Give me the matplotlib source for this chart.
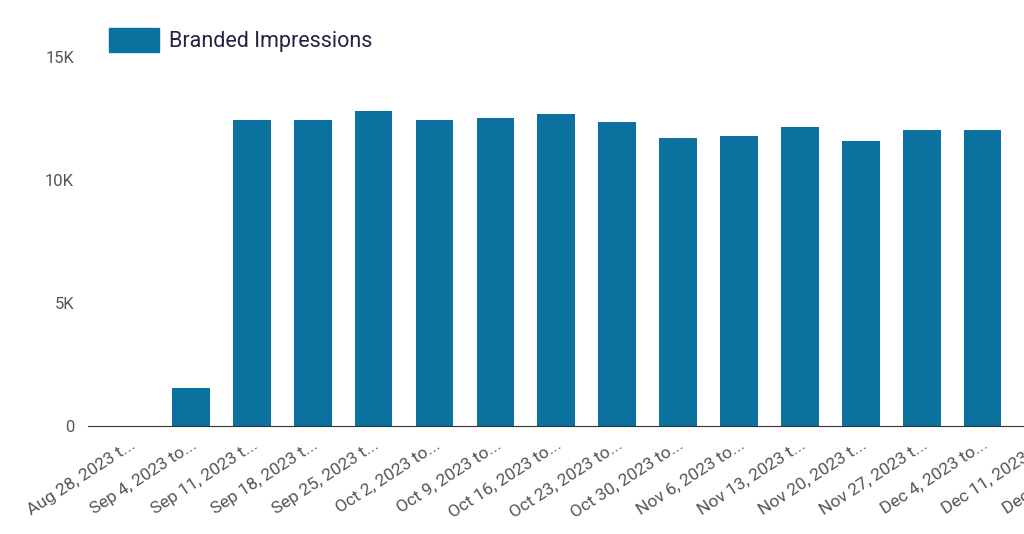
import matplotlib
matplotlib.use("Agg")
import matplotlib.pyplot as plt
from matplotlib.patches import Patch

plt.rcParams['font.family'] = ['Roboto', 'DejaVu Sans']

labels = ["Aug 28, 2023 t...", "Sep 4, 2023 to...", "Sep 11, 2023 t...", "Sep 18, 2023 t...",
          "Sep 25, 2023 t...", "Oct 2, 2023 to...", "Oct 9, 2023 to...", "Oct 16, 2023 to...",
          "Oct 23, 2023 to...", "Oct 30, 2023 to...", "Nov 6, 2023 to...", "Nov 13, 2023 t...",
          "Nov 20, 2023 t...", "Nov 27, 2023 t...", "Dec 4, 2023 to...", "Dec 11, 2023 t...",
          "Dec 18, 2023 t..."]
values = [0, 1550, 12440, 12440, 12800, 12440, 12520, 12680, 12360, 11700, 11790,
          12150, 11590, 12030, 12030, 11750, 11500]
yticks = [0, 5000, 10000, 15000]
ytick_labels = ["0", "5K", "10K", "15K"]

W, H = 1024, 534
fig = plt.figure(figsize=(W/100, H/100), dpi=100)
left_px, right_px = 88, 1150
bottom_px, top_px = 426, 57
ax = fig.add_axes([left_px/W, 1-bottom_px/H, (right_px-left_px)/W, (bottom_px-top_px)/H])
color = "#0b72a0"
x = list(range(len(values)))
ax.bar(x, values, width=0.62, color=color)
ax.set_xlim((left_px-130)/60.9, (right_px-130)/60.9)
ax.set_ylim(0, 15000)
ax.set_yticks(yticks)
ax.set_yticklabels(ytick_labels)
ax.set_xticks(x)
ax.set_xticklabels(labels, rotation=33, ha="right", rotation_mode="anchor")
for s in ["top", "right", "left"]:
    ax.spines[s].set_visible(False)
ax.spines["bottom"].set_color("#333333")
ax.tick_params(axis="y", length=0, labelsize=12, colors="#555555", pad=10)
ax.tick_params(axis="x", length=0, labelsize=12.5, colors="#555555", pad=8)
fig.legend(handles=[Patch(color=color, label="Branded Impressions")],
           loc="center left", bbox_to_anchor=(90/W, 1-40/H), frameon=False,
           fontsize=15.5, handlelength=2.3, handleheight=1.4, handletextpad=0.45,
           labelcolor="#222244")
fig.savefig("out.png", dpi=100)
